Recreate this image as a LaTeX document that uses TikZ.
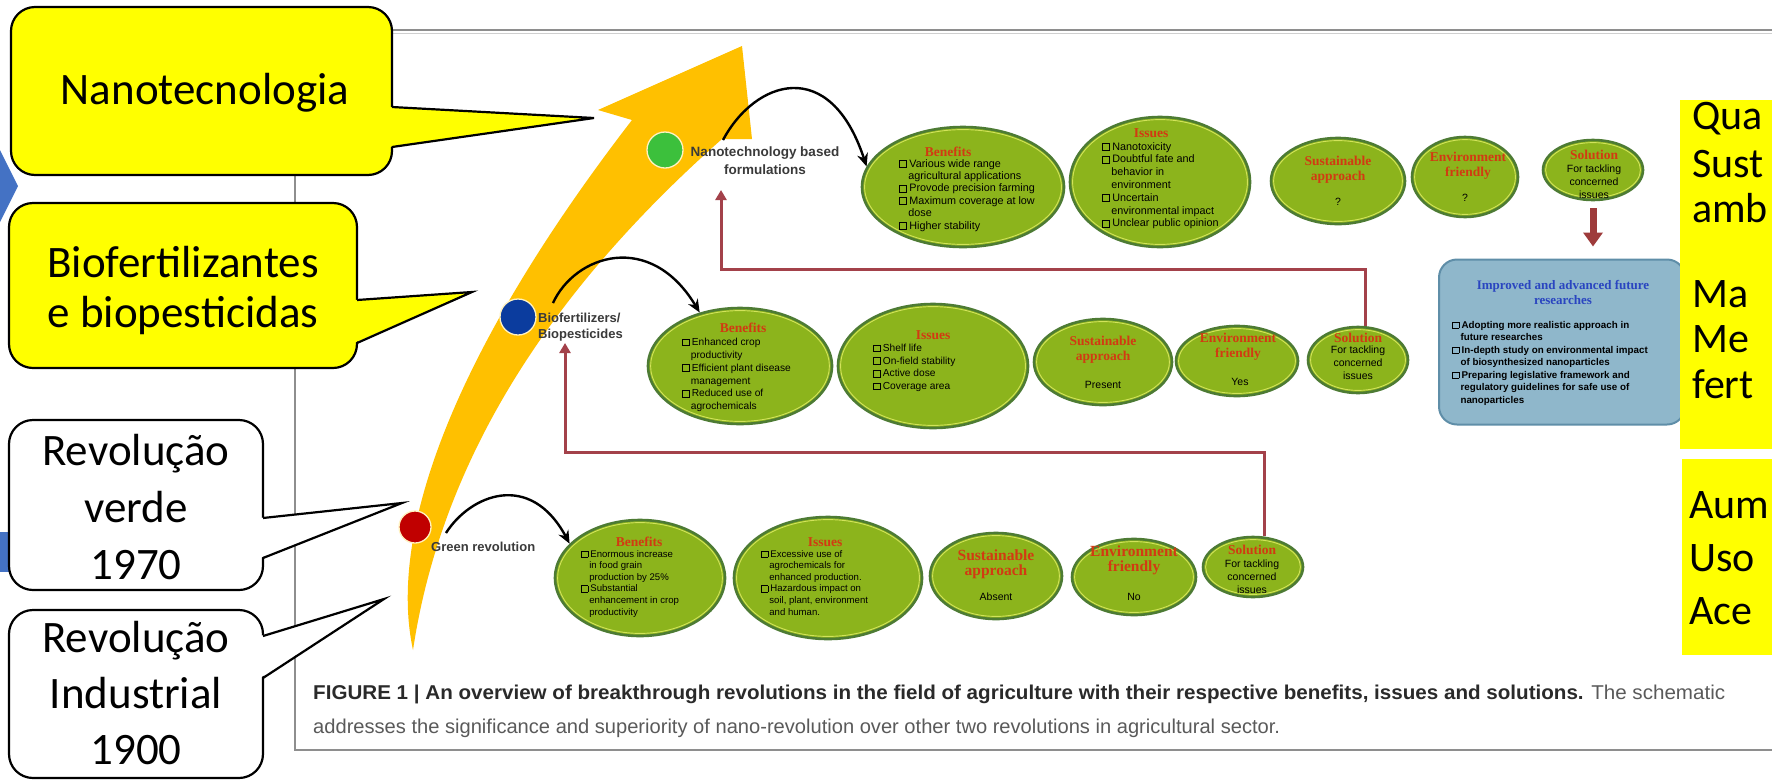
\documentclass[tikz,border=0pt]{standalone}
\usepackage{fontspec}
\usepackage{graphicx}
\setmainfont{Liberation Sans}
\newfontfamily\calib{Carlito}
\newfontfamily\serifb{Liberation Serif}
\usetikzlibrary{arrows.meta,shapes.geometric}

\definecolor{cyel}{HTML}{FFFF00}
\definecolor{corange}{HTML}{FFC000}
\definecolor{cgreen}{HTML}{8CB41C}
\definecolor{cgreendk}{HTML}{4D7B34}
\definecolor{cgreenhl}{HTML}{D2E35A}
\definecolor{cbrown}{HTML}{A3414A}
\definecolor{cbrowndk}{HTML}{9E3B3B}
\definecolor{ctitle}{HTML}{D23A12}
\definecolor{cbluebox}{HTML}{8FB7CB}
\definecolor{cblueboxdk}{HTML}{5F8EA8}
\definecolor{cbluetxt}{HTML}{2A45C0}
\definecolor{cblueshape}{HTML}{4472C4}
\definecolor{cframe}{HTML}{8E8E8E}
\definecolor{cframelt}{HTML}{CFCFCF}
\definecolor{clabel}{HTML}{3A3A3A}
\definecolor{ccap}{HTML}{2A2A2A}
\definecolor{ccapgray}{HTML}{5A5A5A}
\definecolor{cgreendot}{HTML}{3CC03C}
\definecolor{cbluedot}{HTML}{0B3C9E}
\definecolor{creddot}{HTML}{C00000}
\definecolor{cdotring}{HTML}{FFF2C0}

\newcommand\cbx{\raisebox{0.02em}{\setlength{\fboxsep}{0pt}\setlength{\fboxrule}{0.75pt}\fbox{\rule{0pt}{0.58em}\rule{0.58em}{0pt}}}\hspace{0.22em}}
\newcommand\ind{\hspace*{0.85em}}
\newcommand\mycallout[9]{%
  \draw[calloutline,fill=#1,rounded corners=24pt] (#2,#3) rectangle (#4,#5);
  \fill[#1] (#4-3,#6) -- (#7,#8) -- (#4-3,#9) -- cycle;
  \draw[calloutline,line join=miter] (#4,#6) -- (#7,#8) -- (#4,#9);}
\newcommand\gel[5]{%
  \node[gell,minimum width={2*#4*1pt},minimum height={2*#5*1pt}] (#1) at (#2,#3) {};
  \draw[cgreenhl,line width=0.9pt] (#2,#3) ellipse [x radius={#4-2.6}, y radius={#5-2.6}];}

\tikzset{
  calloutline/.style={draw=black,line width=2.2pt},
  ctext/.style={font=\calib\fontsize{45}{52}\selectfont,align=center,inner sep=0pt,text=black},
  gell/.style={ellipse,draw=cgreendk,line width=2.6pt,fill=cgreen,inner sep=0pt},
  ttl/.style={font=\serifb\bfseries\fontsize{13.5}{15}\selectfont,text=ctitle,inner sep=0pt},
  itm/.style={font=\fontsize{10.5}{12.6}\selectfont,align=left,inner sep=0pt,anchor=north west},
  ctr/.style={font=\fontsize{10.5}{13}\selectfont,align=center,inner sep=0pt},
  lbl/.style={font=\bfseries\fontsize{13}{15.5}\selectfont,text=clabel,inner sep=0pt},
  blackarc/.style={draw=black,line width=2.4pt,-{Stealth[length=13pt,width=11pt]}},
  brownln/.style={draw=cbrown,line width=3pt,-{Triangle[length=10pt,width=11pt]}},
  dot/.style={circle,draw=cdotring,line width=1.3pt,minimum size=#1,inner sep=0pt},
  rtext/.style={font=\calib\fontsize{42}{45}\selectfont,anchor=west,inner sep=0pt,text=black},
}

\begin{document}
\begin{tikzpicture}[x=1pt,y=-1pt]
\useasboundingbox (0,0) rectangle (1772,780);
\clip (0,0) rectangle (1772,780);
\fill[white] (0,0) rectangle (1772,780);

% frame of the figure
\draw[cframelt,line width=1.5pt] (297,33.5) -- (1800,33.5);
\draw[cframe,line width=2pt] (1800,30) -- (295,30) -- (295,750) -- (1800,750);

% big curved arrow
\fill[corange] (413,650) .. controls (385,520) and (470,330) .. (632,120)
   -- (598,110) -- (742,46) -- (752,139) -- (722,139)
   .. controls (540,300) and (440,470) .. (413,650) -- cycle;

% revolution dots
\node[dot=36pt,fill=cgreendot] (cg) at (665,150) {};
\node[dot=36pt,fill=cbluedot] (cb) at (518,317) {};
\node[dot=32pt,fill=creddot] (cr) at (415,527) {};

% labels
\node[lbl,align=center,font=\bfseries\fontsize{13.5}{18}\selectfont] (lnano) at (765,161) {Nanotechnology based\\formulations};
\node[lbl,align=left,anchor=west] (lbio) at (538,327) {Biofertilizers/\\Biopesticides};
\node[lbl,anchor=west] (lgreen) at (431,547) {Green revolution};

% ---- nano row
\gel{nben}{963}{187}{101}{60}
\node[ttl] (nbent) at (948,152) {Benefits};
\node[itm,font=\fontsize{10.8}{12.4}\selectfont] (nbeni) at (899,159) {\cbx Various wide range\\\ind agricultural applications\\\cbx Provode precision farming\\\cbx Maximum coverage at low\\\ind dose\\\cbx Higher stability};
\gel{niss}{1160}{182}{90}{65}
\node[ttl] (nisst) at (1151,133) {Issues};
\node[itm,font=\fontsize{10.8}{12.8}\selectfont] (nissi) at (1102,142) {\cbx Nanotoxicity\\\cbx Doubtful fate and\\\ind behavior in\\\ind environment\\\cbx Uncertain\\\ind environmental impact\\\cbx Unclear public opinion};
\gel{nsus}{1338}{181}{67}{43}
\node[ttl,align=center] (nsust) at (1338,170) {Sustainable\\approach};
\node[ctr] (nsusv) at (1338,202) {?};
\gel{nenv}{1465}{177}{53}{40}
\node[ttl,align=center] (nenvt) at (1468,166) {Environment\\friendly};
\node[ctr] (nenvv) at (1465,198) {?};
\gel{nsol}{1593}{170}{50}{30}
\node[ttl] (nsolt) at (1594,155) {Solution};
\node[ctr] (nsolv) at (1594,182) {For tackling\\concerned\\issues};

% ---- bio row
\gel{bben}{740}{366}{92}{58}
\node[ttl] (bbent) at (743,328) {Benefits};
\node[itm,font=\fontsize{10.2}{12.8}\selectfont] (bbeni) at (682,338) {\cbx Enhanced crop\\\ind productivity\\\cbx Efficient plant disease\\\ind management\\\cbx Reduced use of\\\ind agrochemicals};
\gel{biss}{933}{366}{95}{62}
\node[ttl] (bisst) at (933,335) {Issues};
\node[itm,font=\fontsize{10.2}{12.7}\selectfont] (bissi) at (873,344) {\cbx Shelf life\\\cbx On-field stability\\\cbx Active dose\\\cbx Coverage area};
\gel{bsus}{1103}{362}{69}{43}
\node[ttl,align=center] (bsust) at (1103,350) {Sustainable\\approach};
\node[ctr] (bsusv) at (1103,385) {Present};
\gel{benv}{1237}{361}{61}{35}
\node[ttl,align=center] (benvt) at (1238,347) {Environment\\friendly};
\node[ctr] (benvv) at (1240,382) {Yes};
\gel{bsol}{1358}{360}{50}{33}
\node[ttl] (bsolt) at (1358,338) {Solution};
\node[ctr] (bsolv) at (1358,363) {For tackling\\concerned\\issues};

% ---- green revolution row
\gel{gben}{640}{578}{85}{58}
\node[ttl] (gbent) at (639,542) {Benefits};
\node[itm,font=\fontsize{9.6}{11.6}\selectfont] (gbeni) at (581,550) {\cbx Enormous increase\\\ind in food grain\\\ind production by 25\%\\\cbx Substantial\\\ind enhancement in crop\\\ind productivity};
\gel{giss}{828}{578}{94}{61}
\node[ttl] (gisst) at (825,542) {Issues};
\node[itm,font=\fontsize{9.6}{11.6}\selectfont] (gissi) at (761,550) {\cbx Excessive use of\\\ind agrochemicals for\\\ind enhanced production.\\\cbx Hazardous impact on\\\ind soil, plant, environment\\\ind and human.};
\gel{gsus}{996}{576}{66}{43}
\node[ttl,align=center,font=\serifb\bfseries\fontsize{15.5}{15}\selectfont] (gsust) at (996,564) {Sustainable\\approach};
\node[ctr] (gsusv) at (996,597) {Absent};
\gel{genv}{1134}{577}{62}{38}
\node[ttl,align=center,font=\serifb\bfseries\fontsize{15.5}{15}\selectfont] (genvt) at (1134,560) {Environment\\friendly};
\node[ctr] (genvv) at (1134,597) {No};
\gel{gsol}{1253}{567}{50}{30}
\node[ttl] (gsolt) at (1252,550) {Solution};
\node[ctr] (gsolv) at (1252,577) {For tackling\\concerned\\issues};

% black curved arrows
\coordinate (as1) at (723,140);
\draw[blackarc] (as1) .. controls (755,80) and (830,55) .. (nben.168);
\coordinate (as2) at (553,303);
\draw[blackarc] (as2) .. controls (575,255) and (650,230) .. (bben.127);
\coordinate (as3) at (446,533);
\draw[blackarc] (as3) .. controls (470,495) and (530,470) .. (gben.154);

% brown feedback connectors
\coordinate (tgt2) at (721,190);
\draw[brownln] (bsol.78) -- ++(0,-57) -| (tgt2);
\coordinate (tgt1) at (565,343);
\draw[brownln] (gsol.70) -- ++(0,-84) -| (tgt1);

% future research box
\node[draw=cblueboxdk,line width=2pt,fill=cbluebox,rounded corners=18pt,minimum width=246pt,minimum height=165pt,inner sep=0pt] (fbox) at (1562,342) {};
\draw[draw=cbrowndk,line width=7pt,-{Triangle[length=14pt,width=19pt]},shorten <=7pt,shorten >=12pt] (nsol.south) -- (nsol.south |- fbox.north);
\node[font=\serifb\bfseries\fontsize{13}{15}\selectfont,text=cbluetxt,align=center,inner sep=0pt] (ftitle) at (1563,292) {Improved and advanced future\\researches};
\node[itm,font=\bfseries\fontsize{9.8}{12.5}\selectfont] (fitems) at (1452,321) {\cbx Adopting more realistic approach in\\\ind future researches\\\cbx In-depth study on environmental impact\\\ind of biosynthesized nanoparticles\\\cbx Preparing legislative framework and\\\ind regulatory guidelines for safe use of\\\ind nanoparticles};

% caption
\node[anchor=west,inner sep=0pt,text=ccap] (cap1) at (313,694) {\resizebox{1412pt}{\height}{\fontsize{20}{24}\selectfont\textbf{FIGURE 1 | An overview of breakthrough revolutions in the field of agriculture with their respective benefits, issues and solutions.} \textcolor{ccapgray}{The schematic}}};
\node[anchor=west,inner sep=0pt,text=ccapgray] (cap2) at (313,728) {\resizebox{967pt}{\height}{\fontsize{20}{24}\selectfont addresses the significance and superiority of nano-revolution over other two revolutions in agricultural sector.}};

% blue shapes at the left edge
\fill[cblueshape] (0,150) -- (18,186) -- (0,222) -- cycle;
\fill[cblueshape] (0,532) rectangle (12,572);

% callouts
\mycallout{cyel}{11}{7}{392}{175}{107}{594}{118}{147}
\node[ctext] (tnano) at (205,93) {Nanotecnologia};
\mycallout{cyel}{9}{203}{357}{368}{300}{472}{292}{343}
\node[ctext,font=\calib\fontsize{45}{50}\selectfont] (tbio) at (183,290) {Biofertilizantes\\e biopesticidas};
\mycallout{white}{9}{420}{263}{590}{518}{402}{503}{558}
\node[ctext,font=\calib\fontsize{45}{57}\selectfont] (tverde) at (136,507) {Revolução\\verde\\1970};
\mycallout{white}{9}{610}{263}{778}{636}{384}{599}{678}
\node[ctext,font=\calib\fontsize{45}{56}\selectfont] (tind) at (136,693) {Revolução\\Industrial\\1900};

% yellow boxes at the right edge
\fill[cyel] (1680,100) rectangle (1780,449);
\fill[cyel] (1682,459) rectangle (1780,655);
\node[rtext] (r1) at (1692,119) {Qua};
\node[rtext] (r2) at (1692,164) {Sust};
\node[rtext] (r3) at (1692,208) {amb};
\node[rtext] (r4) at (1692,294) {Ma};
\node[rtext] (r5) at (1692,339) {Me};
\node[rtext] (r6) at (1692,384) {fert};
\node[rtext] (r7) at (1689,505) {Aum};
\node[rtext] (r8) at (1689,558) {Uso};
\node[rtext] (r9) at (1689,611) {Ace};
\end{tikzpicture}
\end{document}
